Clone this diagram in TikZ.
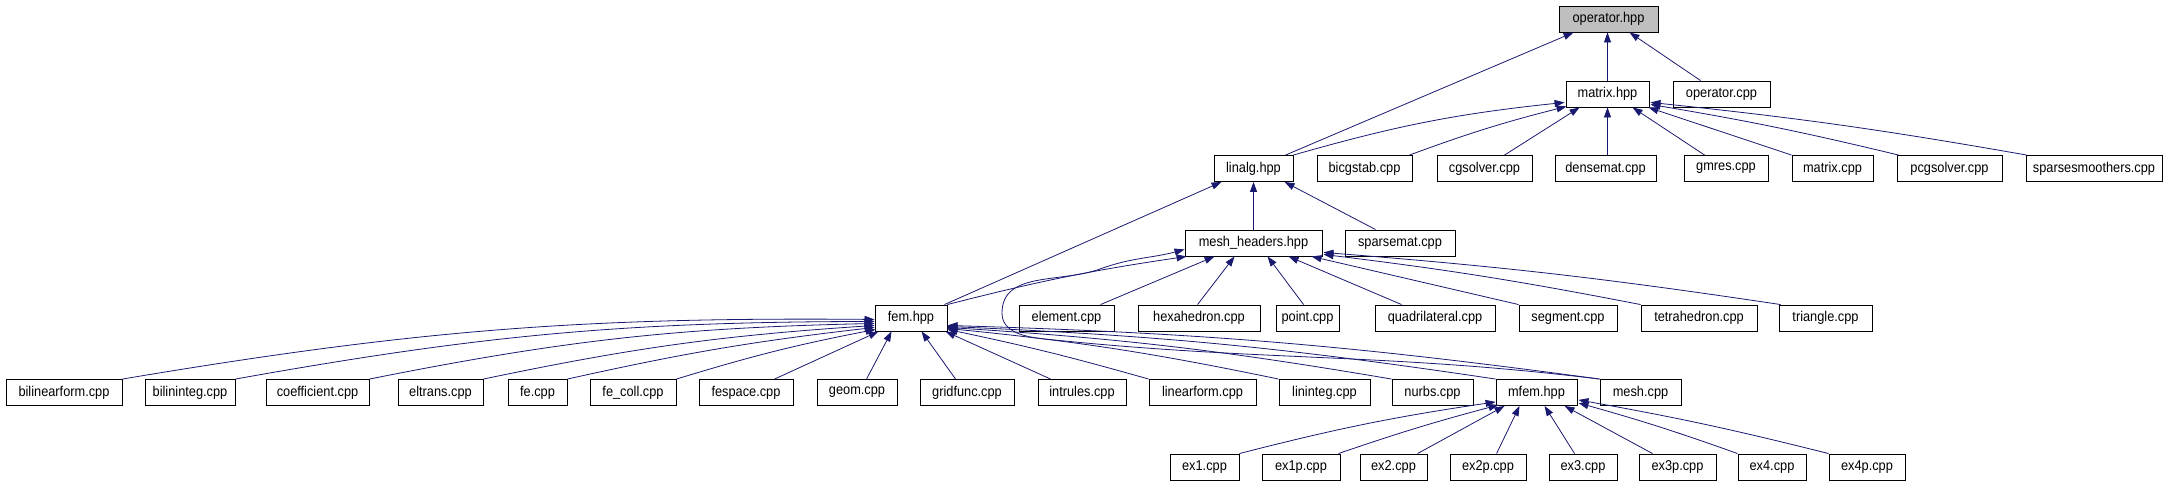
\documentclass[tikz,border=0pt]{standalone}
\usepackage{fontspec}
\setmainfont{Liberation Sans}[FakeStretch=0.9]
\usetikzlibrary{arrows.meta,calc}
\definecolor{edgecol}{HTML}{191970}
\definecolor{greyfill}{HTML}{BFBFBF}
\newcommand\mkbox[5]{\node[box,minimum width=#4pt] (#1) at (#2,#3) {#5};}
\tikzset{
  box/.style={draw=black,line width=0.9pt,fill=white,minimum height=26pt,inner sep=0pt,
    font=\fontsize{14.2}{15}\selectfont},
  edge/.style={draw=edgecol,line width=0.8pt,-{Triangle[length=10pt,width=7pt]}},
}
\begin{document}
\begin{tikzpicture}[x=1pt,y=1pt]
\useasboundingbox (0,0) rectangle (2180,485);
% row 0
\node[box,fill=greyfill,minimum width=99pt] (opH) at (1608.5,466) {operator.hpp};
% row 1
\mkbox{matH}{1607.5}{391}{83}{matrix.hpp}
\mkbox{opC}{1721.5}{391}{97}{operator.cpp}
% row 2
\mkbox{linalg}{1253.5}{316.5}{79}{linalg.hpp}
\mkbox{bicg}{1364.5}{316.5}{95}{bicgstab.cpp}
\mkbox{cgs}{1484.5}{316.5}{95}{cgsolver.cpp}
\mkbox{dense}{1605.5}{316.5}{101}{densemat.cpp}
\mkbox{gmres}{1726}{316.5}{84}{gmres.cpp}
\mkbox{matC}{1832.5}{316.5}{81}{matrix.cpp}
\mkbox{pcg}{1949.5}{316.5}{105}{pcgsolver.cpp}
\mkbox{ssm}{2094}{316.5}{136}{sparsesmoothers.cpp}
% row 3
\mkbox{meshH}{1253.5}{242}{137}{mesh\_headers.hpp}
\mkbox{spm}{1400}{242}{110}{sparsemat.cpp}
% row 4
\mkbox{fem}{911}{167}{72}{fem.hpp}
\mkbox{elem}{1066.5}{167}{95}{element.cpp}
\mkbox{hexa}{1199}{167}{122}{hexahedron.cpp}
\mkbox{point}{1307.5}{167}{63}{point.cpp}
\mkbox{quad}{1435}{167}{120}{quadrilateral.cpp}
\mkbox{seg}{1568}{167}{98}{segment.cpp}
\mkbox{tetra}{1699}{167}{116}{tetrahedron.cpp}
\mkbox{tri}{1825.5}{167}{93}{triangle.cpp}
% row 5
\mkbox{blf}{64}{92.5}{116}{bilinearform.cpp}
\mkbox{bli}{190}{92.5}{90}{bilininteg.cpp}
\mkbox{coef}{317.5}{92.5}{103}{coefficient.cpp}
\mkbox{eltr}{440.5}{92.5}{85}{eltrans.cpp}
\mkbox{fe}{537.5}{92.5}{59}{fe.cpp}
\mkbox{fecoll}{633}{92.5}{86}{fe\_coll.cpp}
\mkbox{fesp}{746}{92.5}{94}{fespace.cpp}
\mkbox{geom}{857}{92.5}{80}{geom.cpp}
\mkbox{grid}{967}{92.5}{94}{gridfunc.cpp}
\mkbox{intr}{1082}{92.5}{88}{intrules.cpp}
\mkbox{linf}{1202.5}{92.5}{107}{linearform.cpp}
\mkbox{lini}{1324.5}{92.5}{91}{lininteg.cpp}
\mkbox{nurbs}{1432.5}{92.5}{81}{nurbs.cpp}
\mkbox{mfem}{1536.5}{92.5}{81}{mfem.hpp}
\mkbox{meshC}{1640.5}{92.5}{81}{mesh.cpp}
% row 6
\mkbox{exa}{1204.5}{18}{69}{ex1.cpp}
\mkbox{exap}{1301}{18}{78}{ex1p.cpp}
\mkbox{exb}{1393.5}{18}{67}{ex2.cpp}
\mkbox{exbp}{1488}{18}{76}{ex2p.cpp}
\mkbox{exc}{1583}{18}{68}{ex3.cpp}
\mkbox{excp}{1677.5}{18}{77}{ex3p.cpp}
\mkbox{exd}{1772}{18}{68}{ex4.cpp}
\mkbox{exdp}{1867}{18}{76}{ex4p.cpp}

% edges to operator.hpp
\draw[edge] ($(linalg.north west)+(72,0)$) -- ($(opH.south west)+(15,0)$);
\draw[edge] (matH.north) -- (matH.north |- opH.south);
\draw[edge] ($(opC.north west)+(28,0)$) -- ($(opH.south west)+(71,0)$);
% edges to matrix.hpp
\draw[edge] (linalg.north east) to[bend left=5] ($(matH.south west)+(-1,5)$);
\draw[edge] ($(bicg.north east)+(-3,0)$) to[bend left=3] ($(matH.south west)+(1,1)$);
\draw[edge] ($(cgs.north west)+(68,0)$) -- ($(matH.south west)+(14,0)$);
\draw[edge] (matH.south |- dense.north) -- (matH.south);
\draw[edge] ($(gmres.north west)+(21,0)$) -- ($(matH.south west)+(67,0)$);
\draw[edge] (matC.north west) -- ($(matH.south east)+(-1,0)$);
\draw[edge] ($(pcg.north west)+(2,0)$) to[bend right=2] ($(matH.south east)+(1,3)$);
\draw[edge] ($(ssm.north west)+(1,0)$) to[bend right=2] ($(matH.south east)+(1,5)$);
% edges to linalg.hpp
\draw[edge] ($(fem.north east)+(-3,0)$) -- ($(linalg.south west)+(8,0)$);
\draw[edge] (meshH.north) -- (linalg.south);
\draw[edge] ($(spm.north west)+(31,0)$) -- ($(linalg.south west)+(71,0)$);
% edges to mesh_headers.hpp
\draw[edge] (fem.north east) to[bend left=3] ($(meshH.south west)+(2,0)$);
\coordinate (w1) at (1045,146);
\coordinate (w2) at (1002,172);
\coordinate (w3) at (1100,216);
\draw[edge] (meshC.north west) to[out=173,in=-6] (w1) to[out=174,in=-90] (w2)
  to[out=90,in=200] (w3) to[out=20,in=195] ($(meshH.south west)+(0,7)$);
\draw[edge] ($(elem.north west)+(82,0)$) -- ($(meshH.south west)+(30,0)$);
\draw[edge] ($(hexa.north west)+(60,0)$) -- ($(meshH.south west)+(50,0)$);
\draw[edge] ($(point.north west)+(28,0)$) -- ($(meshH.south west)+(83,0)$);
\draw[edge] ($(quad.north west)+(27,0)$) -- ($(meshH.south west)+(104,0)$);
\draw[edge] (seg.north west) -- ($(meshH.south west)+(127,0)$);
\draw[edge] (tetra.north west) to[bend right=2] ($(meshH.south east)+(1,2)$);
\draw[edge] ($(tri.north west)+(2,0)$) to[bend right=2] ($(meshH.south east)+(1,4)$);
% edges to fem.hpp
\draw[edge] (blf.north east) to[bend left=5] ($(fem.south west)+(0,12)$);
\draw[edge] (bli.north east) to[bend left=5] ($(fem.south west)+(0,10)$);
\draw[edge] (coef.north east) to[bend left=5] ($(fem.south west)+(0,8)$);
\draw[edge] (eltr.north east) to[bend left=4] ($(fem.south west)+(0,6)$);
\draw[edge] (fe.north east) to[bend left=3] ($(fem.south west)+(0,4)$);
\draw[edge] (fecoll.north east) to[bend left=3] ($(fem.south west)+(1,2)$);
\draw[edge] ($(fesp.north west)+(76,0)$) -- ($(fem.south west)+(4,0)$);
\draw[edge] ($(geom.north west)+(50,0)$) -- ($(fem.south west)+(17,0)$);
\draw[edge] ($(grid.north west)+(36,0)$) -- ($(fem.south west)+(47,0)$);
\draw[edge] ($(intr.north west)+(13,0)$) -- ($(fem.south east)+(-2,0)$);
\draw[edge] (linf.north west) to[bend right=2] ($(fem.south east)+(0,2)$);
\draw[edge] (lini.north west) to[bend right=3] ($(fem.south east)+(0,3)$);
\draw[edge] (nurbs.north west) to[bend right=3] ($(fem.south east)+(0,4)$);
\draw[edge] (mfem.north west) to[bend right=3] ($(fem.south east)+(0,5)$);
\draw[edge] (meshC.north west) to[bend right=3] ($(fem.south east)+(0,6)$);
% edges to mfem.hpp
\draw[edge] (exa.north east) to[bend left=3] ($(mfem.south west)+(0,4)$);
\draw[edge] ($(exap.north east)+(-2,0)$) to[bend left=2] ($(mfem.south west)+(3,1)$);
\draw[edge] ($(exb.north west)+(58,0)$) -- ($(mfem.south west)+(9,0)$);
\draw[edge] ($(exbp.north west)+(47,0)$) -- ($(mfem.south west)+(24,0)$);
\draw[edge] ($(exc.north west)+(26,0)$) -- ($(mfem.south west)+(49,0)$);
\draw[edge] ($(excp.north west)+(14,0)$) -- ($(mfem.south west)+(69,0)$);
\draw[edge] (exd.north west) to[bend right=2] ($(mfem.south east)+(1,3)$);
\draw[edge] (exdp.north west) to[bend right=2] ($(mfem.south east)+(1,6)$);
\end{tikzpicture}
\end{document}
